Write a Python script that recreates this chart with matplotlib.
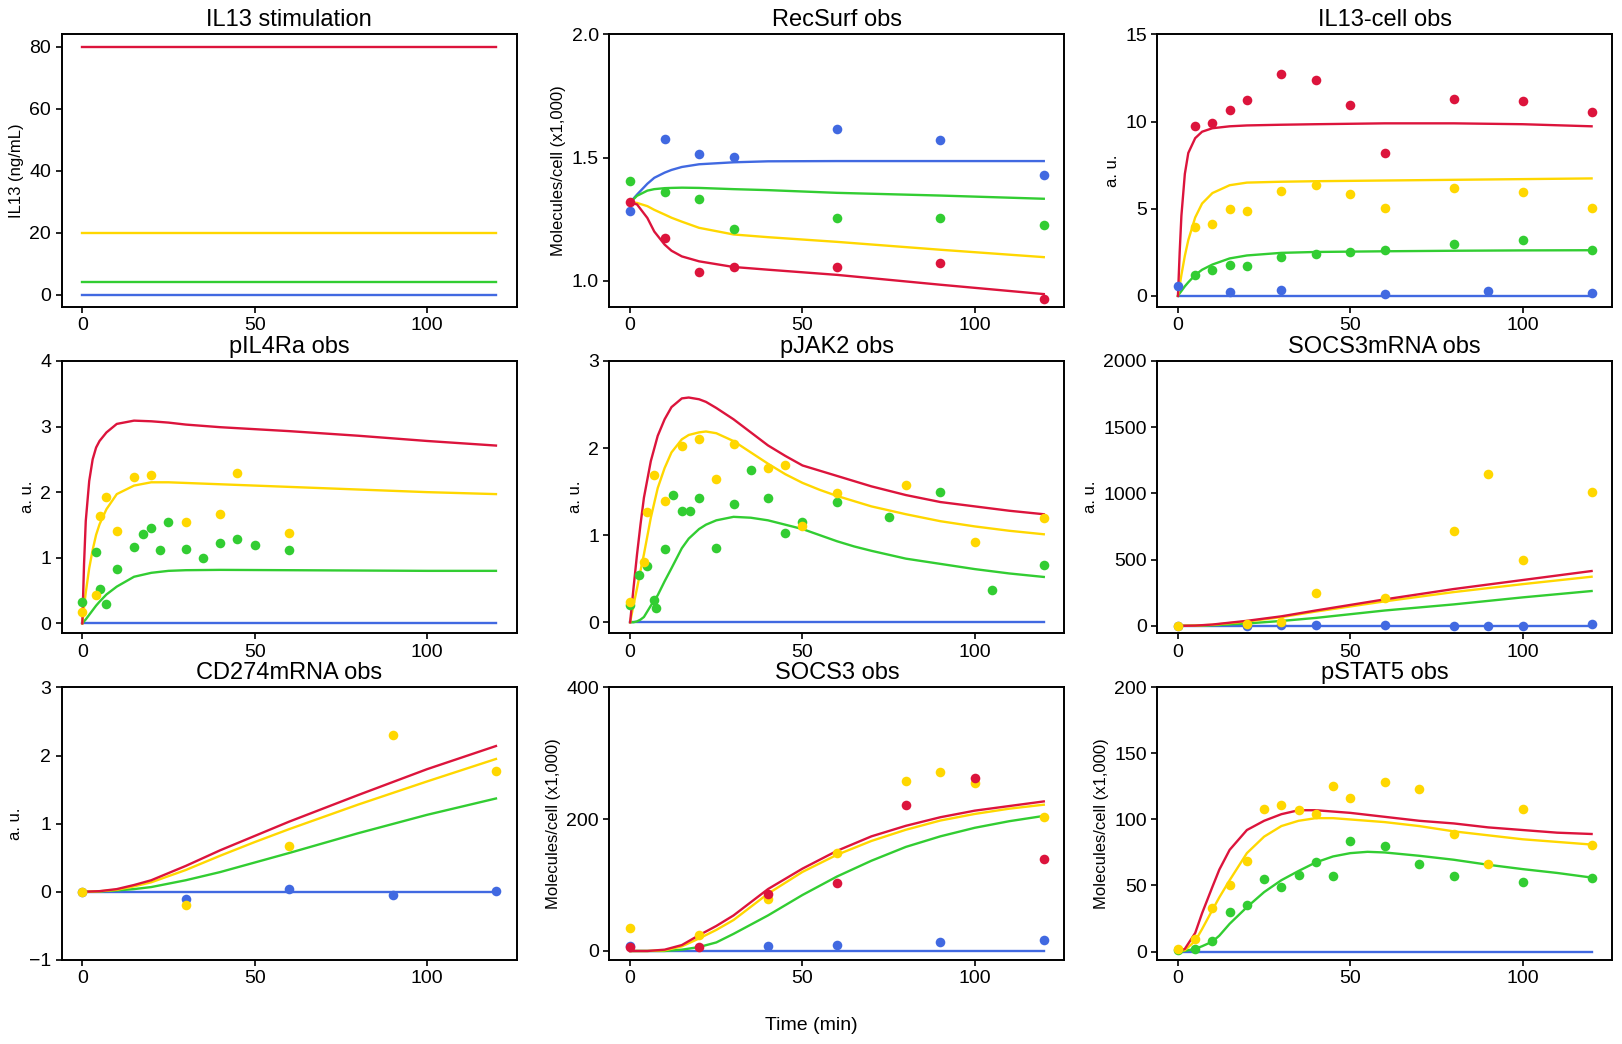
import matplotlib
matplotlib.use("Agg")
import matplotlib.pyplot as plt

plt.rcParams["font.family"] = ["Liberation Sans", "DejaVu Sans"]

colors = {"0": "royalblue", "4": "limegreen", "20": "gold", "80": "crimson"}
doses = ["0", "4", "20", "80"]

# IL13 stimulation
stim_t = [0, 120]
stim_level = {"0": 0, "4": 4, "20": 20, "80": 80}

# RecSurf obs
rec_sim_t = [0, 2, 5, 7, 10, 12, 15, 20, 30, 40, 60, 90, 120]
rec_sim = {
    "0": [1.318, 1.35, 1.394, 1.418, 1.439, 1.450, 1.462, 1.473, 1.481, 1.485, 1.486, 1.486, 1.486],
    "4": [1.318, 1.345, 1.366, 1.372, 1.376, 1.377, 1.378, 1.377, 1.372, 1.368, 1.357, 1.346, 1.333],
    "20": [1.318, 1.316, 1.303, 1.288, 1.269, 1.256, 1.24, 1.215, 1.188, 1.177, 1.158, 1.126, 1.096],
    "80": [1.318, 1.31, 1.255, 1.20, 1.147, 1.122, 1.099, 1.079, 1.056, 1.045, 1.024, 0.984, 0.946],
}
rec_obs_t = [0, 10, 20, 30, 60, 90, 120]
rec_obs = {
    "0": [1.285, 1.575, 1.514, 1.503, 1.615, 1.571, 1.428],
    "4": [1.404, 1.359, 1.330, 1.209, 1.253, 1.253, 1.228],
    "80": [1.318, 1.175, 1.037, 1.054, 1.054, 1.073, 0.928],
}

# IL13-cell obs
il13c_sim_t = [0, 0.5, 1, 2, 3, 5, 7, 10, 15, 20, 30, 40, 60, 80, 100, 120]
il13c_sim = {
    "0": [0] * 16,
    "4": [0, 0.15, 0.28, 0.55, 0.78, 1.2, 1.5, 1.8, 2.15, 2.32, 2.47, 2.52, 2.56, 2.59, 2.61, 2.62],
    "20": [0, 0.6, 1.2, 2.3, 3.2, 4.5, 5.3, 5.9, 6.35, 6.5, 6.55, 6.58, 6.62, 6.66, 6.7, 6.74],
    "80": [0, 2.5, 4.6, 7.0, 8.2, 9.05, 9.42, 9.62, 9.73, 9.78, 9.82, 9.85, 9.9, 9.9, 9.85, 9.73],
}
il13c_obs_t = {
    "0": [0, 15, 30, 60, 90, 120],
    "4": [5, 10, 15, 20, 30, 40, 50, 60, 80, 100, 120],
    "20": [5, 10, 15, 20, 30, 40, 50, 60, 80, 100, 120],
    "80": [5, 10, 15, 20, 30, 40, 50, 60, 80, 100, 120],
}
il13c_obs = {
    "0": [0.59, 0.25, 0.33, 0.13, 0.27, 0.19],
    "4": [1.19, 1.48, 1.80, 1.74, 2.26, 2.43, 2.51, 2.62, 2.95, 3.18, 2.62],
    "20": [3.93, 4.10, 4.96, 4.89, 6.00, 6.34, 5.82, 5.06, 6.17, 5.94, 5.06],
    "80": [9.73, 9.90, 10.65, 11.23, 12.72, 12.38, 10.94, 8.22, 11.28, 11.17, 10.54],
}

# pIL4Ra obs
pil_sim_t = [0, 0.5, 1, 2, 3, 4, 5, 7, 10, 15, 20, 25, 30, 40, 60, 80, 100, 120]
pil_sim = {
    "0": [0] * 18,
    "4": [0, 0.03, 0.06, 0.13, 0.2, 0.27, 0.33, 0.44, 0.56, 0.71, 0.77, 0.8, 0.81, 0.815, 0.81, 0.805, 0.8, 0.8],
    "20": [0, 0.25, 0.47, 0.84, 1.12, 1.35, 1.51, 1.74, 1.97, 2.1, 2.15, 2.15, 2.14, 2.12, 2.08, 2.04, 2.0, 1.97],
    "80": [0, 0.9, 1.56, 2.17, 2.5, 2.68, 2.78, 2.91, 3.04, 3.09, 3.08, 3.06, 3.03, 2.99, 2.93, 2.86, 2.78, 2.71],
}
pil_obs_t = {
    "4": [0, 4, 5, 7, 10, 15, 17.5, 20, 22.5, 25, 30, 35, 40, 45, 50, 60],
    "20": [0, 4, 5, 7, 10, 15, 20, 30, 40, 45, 60],
}
pil_obs = {
    "4": [0.33, 1.08, 0.53, 0.30, 0.83, 1.17, 1.36, 1.45, 1.12, 1.55, 1.13, 0.99, 1.23, 1.28, 1.19, 1.12],
    "20": [0.18, 0.43, 1.63, 1.93, 1.40, 2.23, 2.26, 1.54, 1.66, 2.29, 1.37],
}

# pJAK2 obs
jak_sim_t = [0, 1, 2, 3, 4, 6, 8, 10, 12, 15, 17, 20, 22, 25, 30, 35, 40, 45, 50, 55, 60, 65, 70,
             80, 90, 100, 110, 120]
jak_sim = {
    "0": [0] * 28,
    "4": [0, 0.0, 0.01, 0.03, 0.06, 0.19, 0.31, 0.47, 0.62, 0.85, 0.96, 1.07, 1.12, 1.17, 1.21, 1.20,
          1.17, 1.12, 1.07, 1.00, 0.93, 0.87, 0.82, 0.73, 0.67, 0.61, 0.56, 0.52],
    "20": [0, 0.2, 0.39, 0.59, 0.78, 1.2, 1.54, 1.77, 1.95, 2.10, 2.15, 2.18, 2.19, 2.17, 2.08, 1.95,
           1.82, 1.70, 1.60, 1.52, 1.45, 1.39, 1.33, 1.24, 1.16, 1.10, 1.05, 1.01],
    "80": [0, 0.4, 0.78, 1.12, 1.43, 1.85, 2.14, 2.33, 2.47, 2.57, 2.58, 2.56, 2.53, 2.46, 2.33, 2.18,
           2.03, 1.91, 1.80, 1.74, 1.68, 1.62, 1.56, 1.46, 1.38, 1.33, 1.28, 1.24],
}
jak_obs_t = {
    "4": [0, 2.5, 5, 7, 7.5, 10, 12.5, 15, 17.5, 20, 25, 30, 35, 40, 45, 50, 60, 75, 90, 105, 120],
    "20": [0, 4, 5, 7, 10, 15, 20, 25, 30, 40, 45, 50, 60, 80, 100, 120],
}
jak_obs = {
    "4": [0.20, 0.54, 0.64, 0.25, 0.16, 0.84, 1.46, 1.28, 1.28, 1.43, 0.85, 1.36, 1.75, 1.43, 1.03,
          1.15, 1.38, 1.21, 1.49, 0.37, 0.66],
    "20": [0.23, 0.69, 1.27, 1.69, 1.39, 2.02, 2.10, 1.64, 2.05, 1.77, 1.81, 1.10, 1.48, 1.58, 0.92, 1.20],
}

# SOCS3mRNA obs
smrna_sim_t = [0, 5, 10, 20, 30, 40, 60, 80, 100, 120]
smrna_sim = {
    "0": [0] * 10,
    "4": [0, 1, 4, 18, 37, 60, 116, 162, 215, 263],
    "20": [0, 2, 8, 33, 66, 108, 185, 255, 315, 371],
    "80": [0, 2, 10, 38, 72, 116, 200, 278, 346, 414],
}
smrna_obs_t = [0, 20, 30, 40, 60, 80, 90, 100, 120]
smrna_obs = {
    "0": [0, 0, 3, 5, 8, 0, 0, 0, 13],
    "20": [0, 15, 30, 247, 207, 717, 1149, 497, 1013],
}

# CD274mRNA obs
cd_sim_t = [0, 5, 10, 15, 20, 30, 40, 50, 60, 80, 100, 120]
cd_sim = {
    "0": [0] * 12,
    "4": [0, 0.005, 0.02, 0.04, 0.07, 0.17, 0.29, 0.43, 0.57, 0.86, 1.13, 1.37],
    "20": [0, 0.008, 0.03, 0.08, 0.14, 0.32, 0.53, 0.73, 0.92, 1.28, 1.62, 1.95],
    "80": [0, 0.01, 0.04, 0.10, 0.17, 0.38, 0.61, 0.82, 1.03, 1.42, 1.80, 2.14],
}
cd_obs_t = [0, 30, 60, 90, 120]
cd_obs = {
    "0": [0, -0.11, 0.04, -0.05, 0.01],
    "20": [0, -0.20, 0.67, 2.30, 1.77],
}

# SOCS3 obs
socs_sim_t = [0, 5, 10, 15, 20, 25, 30, 40, 50, 60, 70, 80, 90, 100, 110, 120]
socs_sim = {
    "0": [0] * 16,
    "4": [0, 0, 0, 2, 6, 13, 26, 54, 85, 113, 137, 158, 174, 187, 197, 205],
    "20": [0, 0, 1, 7, 19, 32, 47, 87, 120, 146, 167, 184, 198, 208, 216, 222],
    "80": [0, 0, 2, 9, 24, 38, 54, 94, 125, 152, 174, 190, 203, 213, 220, 227],
}
socs_obs_t = {
    "0": [0, 40, 60, 90, 120],
    "20": [0, 20, 40, 60, 80, 90, 100, 120],
    "80": [0, 20, 40, 60, 80, 100, 120],
}
socs_obs = {
    "0": [8, 8, 9, 13, 16],
    "20": [35, 25, 79, 148, 258, 272, 255, 204],
    "80": [6, 6, 86, 103, 222, 263, 140],
}

# pSTAT5 obs
stat_sim_t = [0, 2, 5, 7, 10, 12, 15, 20, 25, 30, 35, 40, 45, 50, 55, 60, 70, 80, 90, 100, 110, 120]
stat_sim = {
    "0": [0] * 22,
    "4": [0, 0.5, 2, 4, 7.5, 12, 21, 33.6, 45, 54, 61, 67.5, 72, 74.5, 75.5, 75, 72.5, 69.5, 65.7,
          62.4, 59.5, 56],
    "20": [0, 1, 8, 17, 31.5, 41, 54, 74.5, 87, 95, 99, 101, 101, 100, 99, 98, 95, 91, 88, 85, 83, 81],
    "80": [0, 2, 14, 29, 49, 62, 77, 92, 99, 104, 107, 107, 106, 105, 103.5, 102, 99, 97, 94, 92,
           90, 89],
}
stat_obs_t = {
    "4": [0, 5, 10, 15, 20, 25, 30, 35, 40, 45, 50, 60, 70, 80, 100, 120],
    "20": [0, 5, 10, 15, 20, 25, 30, 35, 40, 45, 50, 60, 70, 80, 90, 100, 120],
}
stat_obs = {
    "4": [1, 2, 8, 30, 35, 55, 49, 58, 68, 57, 84, 80, 66, 57, 53, 56],
    "20": [2, 9.6, 33, 50.5, 68.7, 108, 111, 107, 104, 125, 116, 128, 123, 89, 66, 108, 81],
}

TICK_FS = 14
LABEL_FS = 12
TITLE_FS = 17

fig, axes = plt.subplots(3, 3, figsize=(16.22, 10.44), dpi=100)
plt.subplots_adjust(left=0.038, right=0.994, top=0.967, bottom=0.0805, wspace=0.204, hspace=0.198)


def draw_panel(ax, title, ylabel, sim_t, sim, obs_t, obs, top, yticks, bottom=None):
    for d in doses:
        ax.plot(sim_t, sim[d], color=colors[d], lw=1.7)
    for d in doses:
        if d in obs:
            t = obs_t[d] if isinstance(obs_t, dict) else obs_t
            ax.scatter(t, obs[d], color=colors[d], s=48, zorder=3, linewidths=0)
    ax.set_title(title, fontsize=TITLE_FS)
    ax.set_ylabel(ylabel, fontsize=LABEL_FS)
    if bottom is None:
        ax.set_ylim(top=top)
    else:
        ax.set_ylim(bottom, top)
    ax.set_yticks(yticks)


# IL13 stimulation panel
ax = axes[0, 0]
for d in doses:
    ax.plot(stim_t, [stim_level[d]] * len(stim_t), color=colors[d], lw=1.7)
ax.set_title("IL13 stimulation", fontsize=TITLE_FS)
ax.set_ylabel("IL13 (ng/mL)", fontsize=LABEL_FS)
ax.set_yticks([0, 20, 40, 60, 80])

mol = "Molecules/cell (x1,000)"
draw_panel(axes[0, 1], "RecSurf obs", mol, rec_sim_t, rec_sim, rec_obs_t, rec_obs, 2.0, [1.0, 1.5, 2.0])
draw_panel(axes[0, 2], "IL13-cell obs", "a. u.", il13c_sim_t, il13c_sim, il13c_obs_t, il13c_obs, 15, [0, 5, 10, 15])
draw_panel(axes[1, 0], "pIL4Ra obs", "a. u.", pil_sim_t, pil_sim, pil_obs_t, pil_obs, 4, [0, 1, 2, 3, 4])
draw_panel(axes[1, 1], "pJAK2 obs", "a. u.", jak_sim_t, jak_sim, jak_obs_t, jak_obs, 3, [0, 1, 2, 3])
draw_panel(axes[1, 2], "SOCS3mRNA obs", "a. u.", smrna_sim_t, smrna_sim, smrna_obs_t, smrna_obs, 2000,
           [0, 500, 1000, 1500, 2000])
draw_panel(axes[2, 0], "CD274mRNA obs", "a. u.", cd_sim_t, cd_sim, cd_obs_t, cd_obs, 3, [-1, 0, 1, 2, 3], bottom=-1)
draw_panel(axes[2, 1], "SOCS3 obs", mol, socs_sim_t, socs_sim, socs_obs_t, socs_obs, 400, [0, 200, 400])
draw_panel(axes[2, 2], "pSTAT5 obs", mol, stat_sim_t, stat_sim, stat_obs_t, stat_obs, 200, [0, 50, 100, 150, 200])

for ax in axes.flat:
    ax.set_xticks([0, 50, 100])
    ax.tick_params(labelsize=TICK_FS, width=1.2, length=4)
    for s in ax.spines.values():
        s.set_linewidth(1.4)

fig.text(0.5, 0.018, "Time (min)", ha="center", va="center", fontsize=14)

plt.savefig("out.png")
